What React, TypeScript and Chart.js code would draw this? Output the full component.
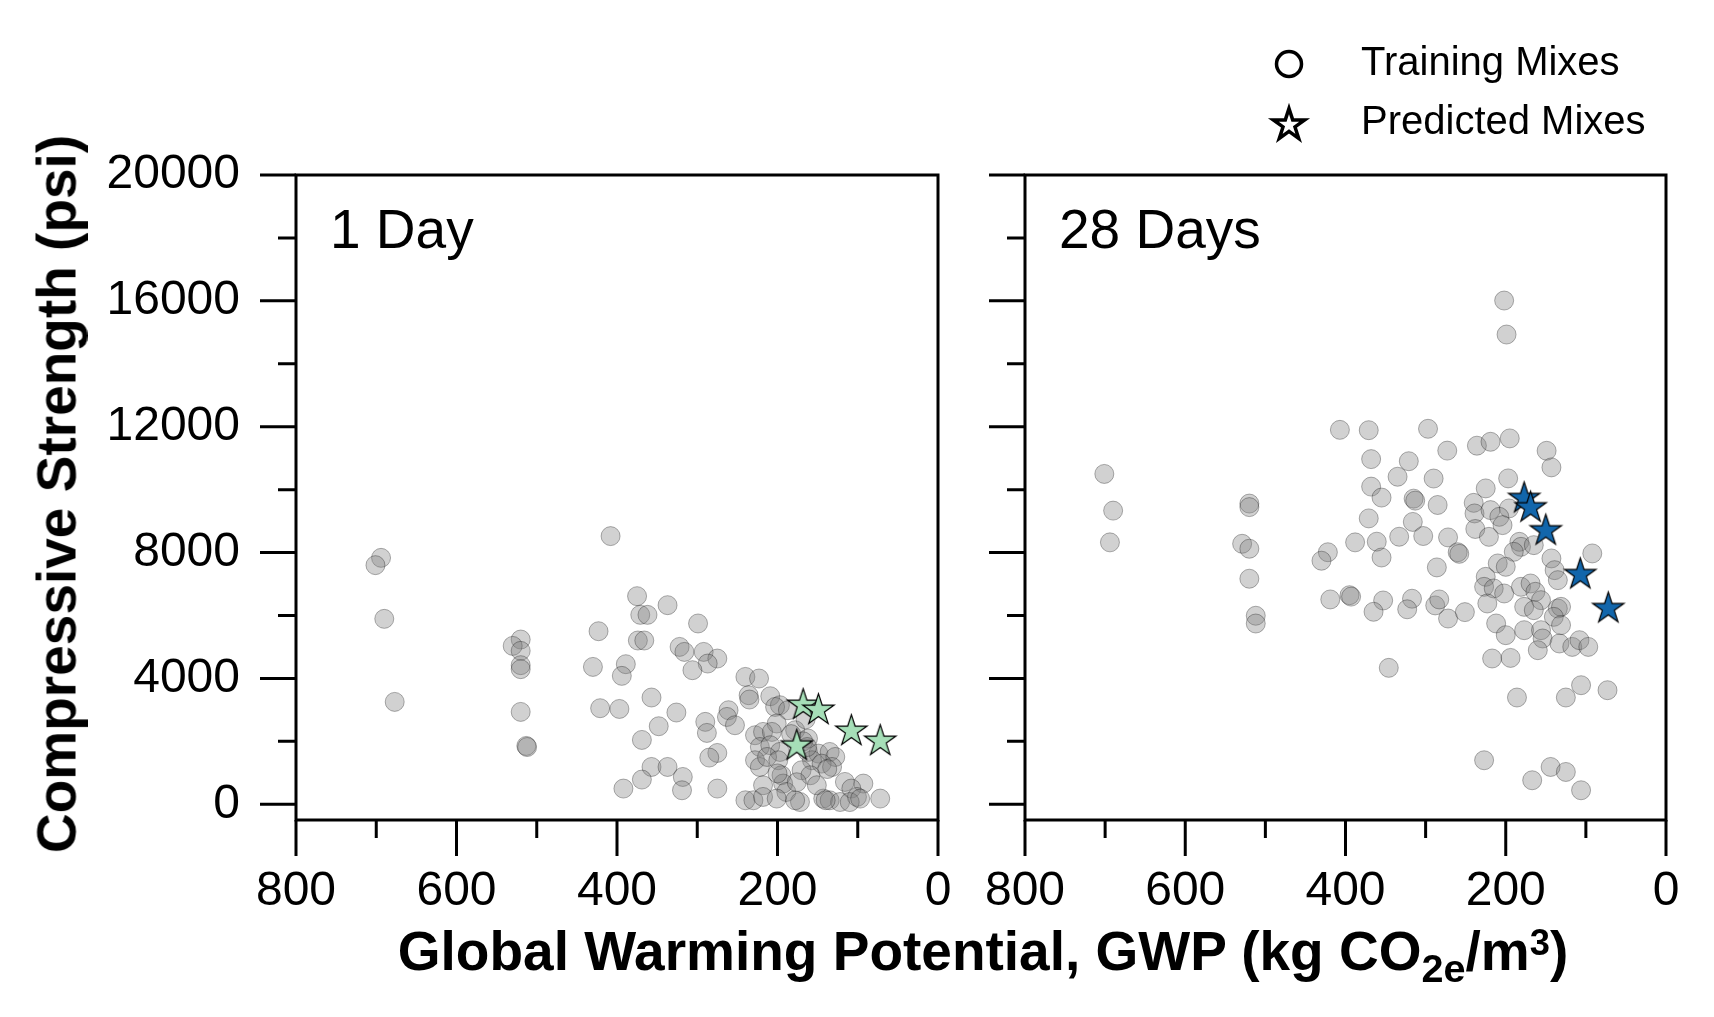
import { useEffect, useRef } from "react";
import { Chart, registerables } from "chart.js";

Chart.register(...registerables);

const FONT = '"Liberation Sans", Arial, Helvetica, sans-serif';
const H = 1017;

// 1 day strength vs GWP
const day1TrainGwp = [
  694, 701, 690, 677, 520, 530, 520, 520, 520, 520, 513, 512, 408, 375, 371, 362, 374, 366, 423, 430,
  389, 394, 421, 397, 357, 369, 357, 369, 392, 337, 299, 322, 316, 292, 275, 287, 306, 326, 348, 290,
  288, 275, 285, 337, 318, 319, 275, 240, 223, 236, 235, 209, 197, 203, 187, 261, 263, 253, 201, 178,
  228, 218, 207, 162, 222, 209, 197, 228, 222, 213, 199, 162, 149, 135, 128, 157, 145, 132, 170, 159,
  195, 193, 218, 189, 116, 93, 108, 72, 240, 230, 218, 201, 172, 178, 143, 135, 122, 101, 151, 165,
  168, 163, 183, 200, 140, 110, 97, 138, 176,
];
const day1TrainPsi = [
  7832, 7600, 5893, 3254, 5236, 5034, 4876, 4421, 4294, 2936, 1854, 1820, 8523, 6614, 6020, 6020, 5205, 5205, 5500, 4366,
  4452, 4081, 3053, 3030, 3393, 2045, 1186, 785, 499, 6328, 5746, 5002, 4843, 4843, 4632, 4473, 4261, 2916, 2480, 2619,
  2268, 1631, 1484, 1186, 868, 445, 499, 4048, 3997, 3466, 3329, 3434, 3148, 3094, 2989, 2989, 2776, 2512, 2566, 2353,
  2194, 2300, 2300, 2089, 1822, 1876, 1663, 1399, 1186, 1504, 1399, 1663, 1610, 1663, 1504, 1399, 1292, 1186, 1081, 922,
  922, 658, 604, 391, 710, 658, 499, 181, 127, 127, 233, 181, 73, 127, 181, 127, 73, 233, 604, 2700,
  2000, 1820, 2230, 980, 130, 70, 180, 1120, 700,
];
const day1PredGwp = [168, 149, 108, 72, 176];
const day1PredPsi = [3202, 3043, 2375, 2057, 1908];

// 28 days strength vs GWP
const day28TrainGwp = [
  701, 690, 694, 520, 520, 529, 520, 520, 512, 512, 407, 371, 297, 368, 321, 273, 236, 335, 368, 355,
  315, 313, 290, 285, 371, 316, 240, 239, 238, 422, 430, 388, 361, 355, 333, 303, 272, 260, 258, 286,
  419, 395, 393, 353, 317, 288, 283, 365, 323, 272, 251, 346, 202, 199,
  219, 195, 149, 143, 197, 225, 219, 196, 208, 204, 221, 183, 181, 190, 165, 143, 139, 135, 92, 210,
  200, 225, 227, 215, 202, 223, 181, 169, 163, 156, 177, 165, 135, 131, 140, 131, 212, 200, 177, 156,
  154, 160, 133, 117, 108, 97, 217, 194, 186, 125, 106, 73, 227, 167, 144, 125, 106,
];
const day28TrainPsi = [
  10499, 9333, 8324, 9557, 9445, 8279, 8122, 7169, 5992, 5745, 11900, 11889, 11934, 10970, 10903, 11240, 11397, 10410, 10096, 9748,
  9714, 9650, 10353, 9512, 9086, 8974, 9580, 9243, 8750, 8010, 7741, 8324, 8346, 7843, 8503, 8526, 8481, 8010, 7960, 7528,
  6510, 6645, 6600, 6477, 6533, 6320, 6510, 6118, 6197, 5904, 6107, 4336, 16010, 14930,
  11521, 11628, 11235, 10707, 10357, 10039, 9349, 9403, 9136, 8872, 8500, 8341, 8182, 8023, 8236, 7813, 7441, 7123, 7972, 7654,
  7547, 7229, 6911, 6859, 6700, 6382, 6911, 7017, 6753, 6487, 6275, 6169, 6222, 6275, 5957, 5693, 5746, 5374, 5533, 5533,
  5269, 4897, 5110, 5002, 5215, 5002, 4633, 4652, 3393, 3393, 3784, 3625, 1399, 763, 1186, 1027, 445,
];
const day28PredGwp = [177, 169, 150, 107, 72];
const day28PredPsi = [9772, 9476, 8745, 7355, 6275];

const xTicks = [0, 100, 200, 300, 400, 500, 600, 700, 800];
const yTicks = [0, 2000, 4000, 6000, 8000, 10000, 12000, 14000, 16000, 18000, 20000];

function starPath(ctx: CanvasRenderingContext2D, cx: number, cy: number, r: number) {
  ctx.beginPath();
  for (let i = 0; i < 10; i++) {
    const rad = i % 2 === 0 ? r : r * 0.382;
    const a = -Math.PI / 2 + (i * Math.PI) / 5;
    ctx.lineTo(cx + rad * Math.cos(a), cy + rad * Math.sin(a));
  }
  ctx.closePath();
}

function makeStar(r: number, fill: string) {
  const size = Math.ceil(2 * r + 4);
  const c = document.createElement("canvas");
  c.width = size;
  c.height = size;
  const ctx = c.getContext("2d")!;
  starPath(ctx, size / 2, size / 2 + r * 0.1, r);
  ctx.fillStyle = fill;
  ctx.fill();
  ctx.strokeStyle = "#000";
  ctx.lineWidth = 1.2;
  ctx.stroke();
  return c;
}

// frame, tick marks, panel label and legend
const decor = {
  id: "decor",
  afterDraw(chart: any, _args: any, opts: any) {
    const { ctx, chartArea: a } = chart;
    const xs = chart.scales.x;
    const ys = chart.scales.y;
    ctx.save();
    ctx.strokeStyle = "#000";
    ctx.lineWidth = 3;
    ctx.strokeRect(a.left, a.top, a.right - a.left, a.bottom - a.top);
    ctx.beginPath();
    yTicks.forEach((v) => {
      const p = ys.getPixelForValue(v);
      const len = v % 4000 === 0 ? 36 : 18;
      ctx.moveTo(a.left - len, p);
      ctx.lineTo(a.left, p);
    });
    xTicks.forEach((v) => {
      const p = xs.getPixelForValue(v);
      const len = v % 200 === 0 ? 36 : 18;
      ctx.moveTo(p, a.bottom);
      ctx.lineTo(p, a.bottom + len);
    });
    ctx.stroke();

    ctx.fillStyle = "#000";
    ctx.font = `55px ${FONT}`;
    ctx.textAlign = "left";
    ctx.textBaseline = "alphabetic";
    ctx.fillText(opts.label, a.left + 34, 248);

    if (opts.legend) {
      const mx = 1289 - opts.offset;
      const tx = 1361 - opts.offset;
      ctx.lineWidth = 3.5;
      ctx.beginPath();
      ctx.arc(mx, 64, 12.5, 0, Math.PI * 2);
      ctx.stroke();
      ctx.lineWidth = 3.5;
      ctx.lineJoin = "miter";
      starPath(ctx, mx, 125, 16.5);
      ctx.stroke();
      ctx.font = `40px ${FONT}`;
      ctx.textBaseline = "middle";
      ctx.fillText("Training Mixes", tx, 64);
      ctx.fillText("Predicted Mixes", tx, 123);
    }
    ctx.restore();
  },
};

function Panel(props: any) {
  const ref = useRef<HTMLCanvasElement>(null);

  useEffect(() => {
    const canvas = ref.current;
    if (!canvas) return;
    const star = makeStar(16.5, props.starColor);

    const chart = new Chart(canvas, {
      type: "scatter",
      data: {
        datasets: [
          {
            data: props.predGwp.map((x: number, i: number) => ({ x, y: props.predPsi[i] })),
            pointStyle: star,
            pointRadius: 16,
          },
          {
            data: props.trainGwp.map((x: number, i: number) => ({ x, y: props.trainPsi[i] })),
            pointStyle: "circle",
            pointRadius: 9.5,
            backgroundColor: "rgba(128,128,128,0.36)",
            borderColor: "rgba(0,0,0,0.3)",
            borderWidth: 1,
          },
        ],
      },
      options: {
        responsive: false,
        animation: false,
        events: [],
        layout: { padding: { left: 0, top: 175, right: props.rightPad, bottom: 0 } },
        plugins: {
          legend: { display: false },
          tooltip: { enabled: false },
          decor: { label: props.label, legend: props.legend, offset: props.left },
        },
        scales: {
          x: {
            type: "linear",
            min: 0,
            max: 800,
            reverse: true,
            afterBuildTicks: (s: any) => {
              s.ticks = xTicks.map((v) => ({ value: v }));
            },
            afterFit: (s: any) => {
              s.height = 197;
            },
            ticks: {
              autoSkip: false,
              maxRotation: 0,
              padding: 43,
              color: "#000",
              font: { size: 48, family: FONT },
              callback: (v: any) => (v % 200 === 0 ? String(v) : ""),
            },
            grid: { display: false, drawTicks: false },
            border: { display: false },
          },
          y: {
            type: "linear",
            min: -500,
            max: 20000,
            afterBuildTicks: (s: any) => {
              s.ticks = yTicks.map((v) => ({ value: v }));
            },
            afterFit: (s: any) => {
              s.width = props.yAxisWidth;
            },
            ticks: {
              display: props.yLabels,
              autoSkip: false,
              padding: 56,
              color: "#000",
              font: { size: 48, family: FONT },
              callback: (v: any) => (v % 4000 === 0 ? String(v) : ""),
            },
            grid: { display: false, drawTicks: false },
            border: { display: false },
          },
        },
      } as any,
      plugins: [decor as any],
    });

    return () => chart.destroy();
  }, []);

  return (
    <canvas
      ref={ref}
      width={props.width}
      height={H}
      style={{ position: "absolute", left: props.left, top: 0, width: props.width, height: H }}
    />
  );
}

export default function App() {
  useEffect(() => {
    document.body.style.margin = "0";
  }, []);

  return (
    <div style={{ position: "relative", width: 1714, height: H, background: "#fff", overflow: "hidden", fontFamily: FONT }}>
      <Panel
        left={0}
        width={960}
        yAxisWidth={296}
        rightPad={22}
        label="1 Day"
        yLabels={true}
        legend={false}
        trainGwp={day1TrainGwp}
        trainPsi={day1TrainPsi}
        predGwp={day1PredGwp}
        predPsi={day1PredPsi}
        starColor="#a6dfb8"
      />
      <Panel
        left={960}
        width={754}
        yAxisWidth={65}
        rightPad={48}
        label="28 Days"
        yLabels={false}
        legend={true}
        trainGwp={day28TrainGwp}
        trainPsi={day28TrainPsi}
        predGwp={day28PredGwp}
        predPsi={day28PredPsi}
        starColor="#1266ab"
      />
      <div
        style={{
          position: "absolute",
          left: 57,
          top: 494,
          transform: "translate(-50%, -50%) rotate(-90deg)",
          whiteSpace: "nowrap",
          fontWeight: "bold",
          fontSize: 55,
          lineHeight: "55px",
          color: "#000",
        }}
      >
        Compressive Strength (psi)
      </div>
      <div
        style={{
          position: "absolute",
          left: 983,
          top: 924,
          transform: "translateX(-50%)",
          whiteSpace: "nowrap",
          fontWeight: "bold",
          fontSize: 55,
          lineHeight: "55px",
          color: "#000",
        }}
      >
        Global Warming Potential, GWP (kg CO
        <span style={{ fontSize: "0.72em", position: "relative", top: "0.3em" }}>2e</span>
        /m
        <span style={{ fontSize: "0.66em", position: "relative", top: "-0.42em" }}>3</span>)
      </div>
    </div>
  );
}
